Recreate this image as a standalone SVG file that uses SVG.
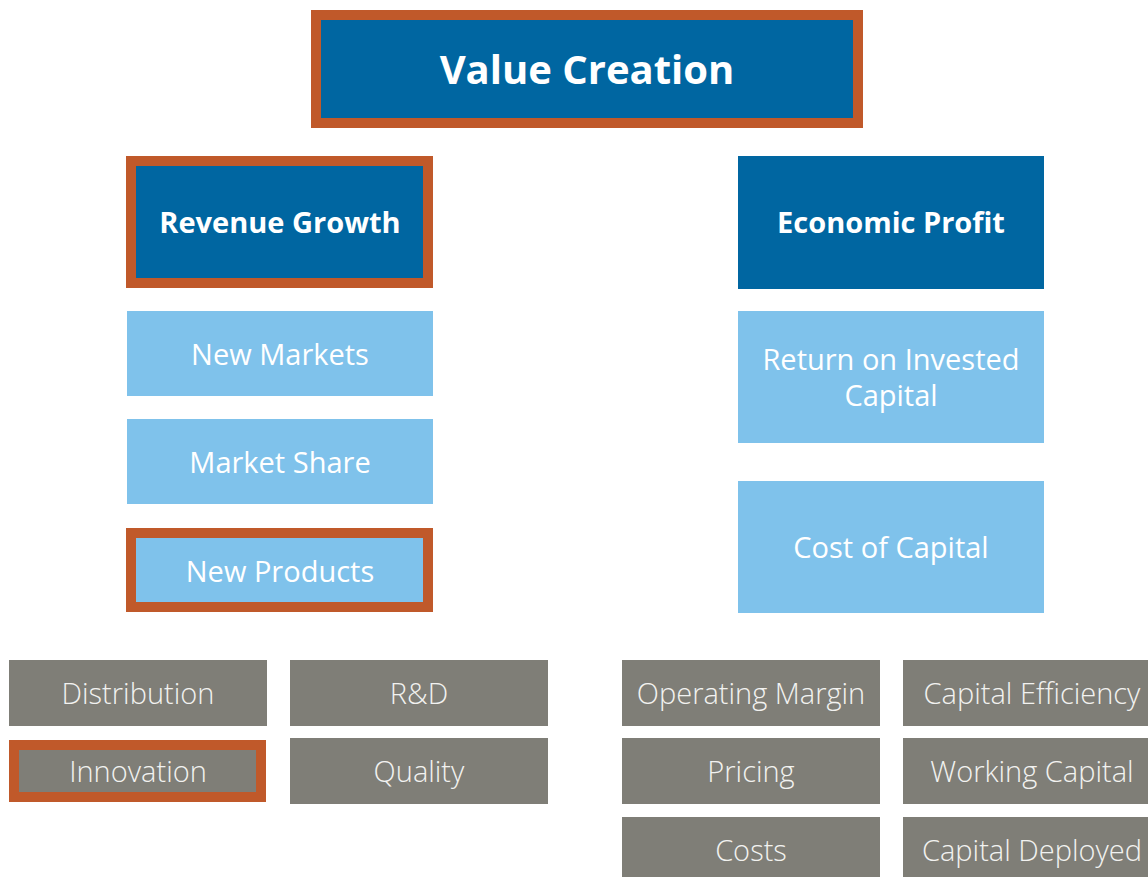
<svg xmlns="http://www.w3.org/2000/svg" width="1148" height="877" viewBox="0 0 1148 877">
<style>
.dark{fill:#0066A1}
.light{fill:#7FC2EB}
.gray{fill:#7F7E77}
.hl{stroke:#C0592A;stroke-width:10}
.tb{font-family:"Open Sans","Liberation Sans",sans-serif;font-weight:700;fill:#FFFFFF;text-anchor:middle}
.tr{font-family:"Open Sans","Liberation Sans",sans-serif;font-weight:400;font-size:29px;fill:#FFFFFF;text-anchor:middle}
.tl{font-family:"Open Sans","Liberation Sans",sans-serif;font-weight:300;font-size:29px;fill:#F2F2F0;text-anchor:middle}
</style>
<rect width="1148" height="877" fill="#FFFFFF"/>
<g id="connectors"></g>
<g id="value-creation"><rect class="dark hl" x="316" y="15" width="542" height="108"/><text class="tb" x="587" y="84" font-size="40">Value Creation</text></g>
<g id="revenue-growth"><rect class="dark hl" x="131" y="161" width="297" height="122"/><text class="tb" x="280" y="233" font-size="29">Revenue Growth</text></g>
<g id="economic-profit"><rect class="dark" x="738" y="156" width="306" height="133"/><text class="tb" x="891" y="233" font-size="29">Economic Profit</text></g>
<g id="new-markets"><rect class="light" x="127" y="311" width="306" height="85"/><text class="tr" x="280" y="365">New Markets</text></g>
<g id="market-share"><rect class="light" x="127" y="419" width="306" height="85"/><text class="tr" x="280" y="473">Market Share</text></g>
<g id="new-products"><rect class="light hl" x="131" y="533" width="297" height="74"/><text class="tr" x="280" y="582">New Products</text></g>
<g id="roic"><rect class="light" x="738" y="311" width="306" height="132"/><text class="tr" x="891" y="370">Return on Invested</text><text class="tr" x="891" y="406">Capital</text></g>
<g id="cost-of-capital"><rect class="light" x="738" y="481" width="306" height="132"/><text class="tr" x="891" y="558">Cost of Capital</text></g>
<g id="distribution"><rect class="gray" x="9" y="660" width="258" height="66"/><text class="tl" x="138" y="704">Distribution</text></g>
<g id="innovation"><rect class="gray hl" x="14" y="745" width="247" height="52"/><text class="tl" x="138" y="782">Innovation</text></g>
<g id="rd"><rect class="gray" x="290" y="660" width="258" height="66"/><text class="tl" x="419" y="704">R&amp;D</text></g>
<g id="quality"><rect class="gray" x="290" y="738" width="258" height="66"/><text class="tl" x="419" y="782">Quality</text></g>
<g id="operating-margin"><rect class="gray" x="622" y="660" width="258" height="66"/><text class="tl" x="751" y="704">Operating Margin</text></g>
<g id="pricing"><rect class="gray" x="622" y="738" width="258" height="66"/><text class="tl" x="751" y="782">Pricing</text></g>
<g id="costs"><rect class="gray" x="622" y="817" width="258" height="66"/><text class="tl" x="751" y="861">Costs</text></g>
<g id="capital-efficiency"><rect class="gray" x="903" y="660" width="258" height="66"/><text class="tl" x="1032" y="704">Capital Efficiency</text></g>
<g id="working-capital"><rect class="gray" x="903" y="738" width="258" height="66"/><text class="tl" x="1032" y="782">Working Capital</text></g>
<g id="capital-deployed"><rect class="gray" x="903" y="817" width="258" height="66"/><text class="tl" x="1032" y="861">Capital Deployed</text></g>
</svg>
